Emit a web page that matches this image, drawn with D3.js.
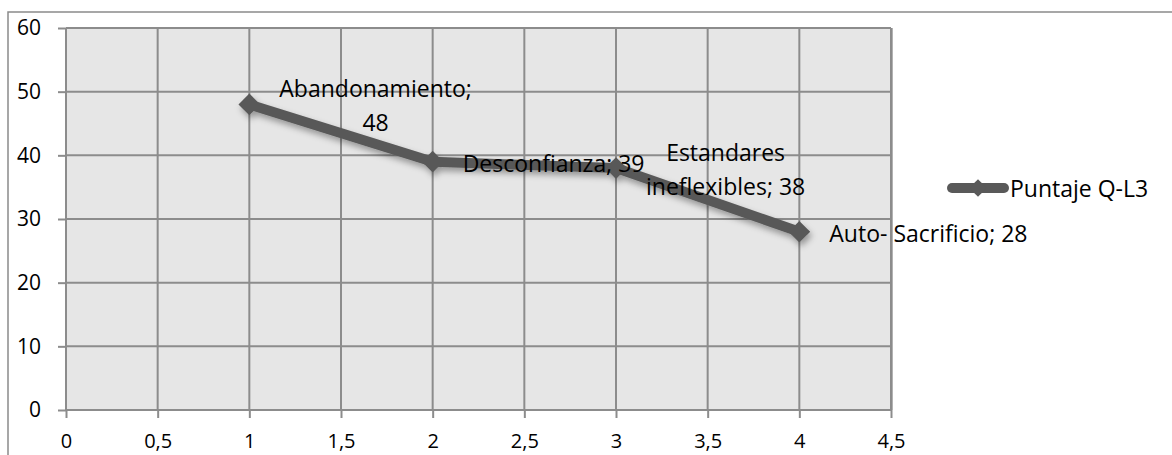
<!DOCTYPE html>
<html>
<head>
<meta charset="utf-8">
<script src="https://cdn.jsdelivr.net/npm/d3@7"></script>
<style>
  html, body { margin: 0; padding: 0; background: #ffffff; }
  svg { display: block; }
  text { font-family: "Open Sans", Lato, sans-serif; fill: #000; }
</style>
</head>
<body>
<svg id="chart" width="1172" height="455"></svg>
<script>
// Series data
const seriesName = "Puntaje Q-L3";
const categories = ["Abandonamiento", "Desconfianza", "Estandares ineflexibles", "Auto- Sacrificio"];
const xValues = [1, 2, 3, 4];
const yValues = [48, 39, 38, 28];

// Axis ticks
const xTicks = [0, 0.5, 1, 1.5, 2, 2.5, 3, 3.5, 4, 4.5];
const yTicks = [0, 10, 20, 30, 40, 50, 60];

const svg = d3.select("#chart");
const W = 1172, H = 455;
const plot = { left: 66, right: 891, top: 28, bottom: 410 };
const fontFamily = "'Open Sans', Lato, sans-serif";
const yAxisFontSize = 21;
const xAxisFontSize = 20;
const labelFontSize = 23;
const gridColor = "#8c8c8c";
const lineColor = "#595959";

const x = d3.scaleLinear().domain([0, 4.5]).range([plot.left, plot.right]);
const y = d3.scaleLinear().domain([0, 60]).range([plot.bottom, plot.top]);
const fmt = v => String(v).replace(".", ",");

// Shadow filters
const defs = svg.append("defs");
const f = defs.append("filter").attr("id", "shadow")
  .attr("x", "-10%").attr("y", "-20%").attr("width", "130%").attr("height", "160%");
f.append("feDropShadow").attr("dx", 2).attr("dy", 4).attr("stdDeviation", 3)
  .attr("flood-color", "#000").attr("flood-opacity", 0.35);
const fp = defs.append("filter").attr("id", "plotShadow")
  .attr("x", "-5%").attr("y", "-5%").attr("width", "110%").attr("height", "110%");
fp.append("feDropShadow").attr("dx", 2).attr("dy", 0).attr("stdDeviation", 0.6)
  .attr("flood-color", "#000").attr("flood-opacity", 0.3);

// Outer chart frame (runs past the window on the right and bottom)
svg.append("rect")
  .attr("x", 8).attr("y", 12).attr("width", W + 20).attr("height", H + 20)
  .attr("fill", "#fff").attr("stroke", "#8a8a8a").attr("stroke-width", 1.5);

// Plot area background
svg.append("rect")
  .attr("x", plot.left).attr("y", plot.top)
  .attr("width", plot.right - plot.left).attr("height", plot.bottom - plot.top)
  .attr("fill", "#e6e6e6").attr("filter", "url(#plotShadow)");

// Gridlines
svg.append("g").selectAll("line").data(yTicks).join("line")
  .attr("x1", plot.left).attr("x2", plot.right)
  .attr("y1", d => y(d)).attr("y2", d => y(d))
  .attr("stroke", gridColor).attr("stroke-width", 2);
svg.append("g").selectAll("line").data(xTicks).join("line")
  .attr("x1", d => x(d)).attr("x2", d => x(d))
  .attr("y1", plot.top).attr("y2", plot.bottom)
  .attr("stroke", gridColor).attr("stroke-width", 2);

// Axes
const yAxis = d3.axisLeft(y).tickValues(yTicks).tickFormat(fmt).tickSize(8).tickPadding(17);
const xAxis = d3.axisBottom(x).tickValues(xTicks).tickFormat(fmt).tickSize(8).tickPadding(16);

const gy = svg.append("g").attr("transform", `translate(${plot.left},0)`).call(yAxis);
const gx = svg.append("g").attr("transform", `translate(0,${plot.bottom})`).call(xAxis);
[gx, gy].forEach(g => {
  g.select(".domain").attr("stroke", gridColor).attr("stroke-width", 2);
  g.selectAll(".tick line").attr("stroke", gridColor).attr("stroke-width", 2);
  g.selectAll(".tick text").attr("font-family", fontFamily).attr("fill", "#000");
});
gy.selectAll(".tick text").attr("font-size", yAxisFontSize);
gx.selectAll(".tick text").attr("font-size", xAxisFontSize);
gx.select(".domain").attr("d", `M${plot.left},0H${plot.right}`);
gy.select(".domain").attr("d", `M0,${plot.top}V${plot.bottom}`);

// Series line with diamond markers
const pts = xValues.map((v, i) => ({ x: v, y: yValues[i], cat: categories[i] }));
const series = svg.append("g").attr("filter", "url(#shadow)");
series.append("path")
  .datum(pts)
  .attr("d", d3.line().x(d => x(d.x)).y(d => y(d.y)))
  .attr("fill", "none").attr("stroke", lineColor)
  .attr("stroke-width", 10).attr("stroke-linejoin", "round");
const diamond = d3.symbol().type(d3.symbolDiamond2).size(300);
series.selectAll("path.marker").data(pts).join("path")
  .attr("class", "marker")
  .attr("transform", d => `translate(${x(d.x)},${y(d.y)})`)
  .attr("d", diamond)
  .attr("fill", lineColor);

// Data labels: "category; value", wrapped, placed to the right of each point
const wrapWidth = 215, lineGap = 34, labelOffset = 30;
const measure = svg.append("text").attr("font-size", labelFontSize).attr("visibility", "hidden");
const textWidth = s => { measure.text(s); return measure.node().getComputedTextLength(); };

pts.forEach(p => {
  const words = `${p.cat}; ${p.y}`.split(" ");
  const lines = [];
  let cur = "";
  words.forEach(w => {
    const test = cur ? cur + " " + w : w;
    if (cur && textWidth(test) > wrapWidth) { lines.push(cur); cur = w; }
    else cur = test;
  });
  lines.push(cur);
  const blockW = d3.max(lines, textWidth);
  const cx = x(p.x) + labelOffset + blockW / 2;
  const cy = y(p.y) + 1;
  const g = svg.append("g");
  lines.forEach((ln, i) => {
    g.append("text")
      .attr("x", cx)
      .attr("y", cy + (i - (lines.length - 1) / 2) * lineGap)
      .attr("text-anchor", "middle")
      .attr("dominant-baseline", "central")
      .attr("font-size", labelFontSize)
      .text(ln);
  });
});
measure.remove();

// Legend
const lg = svg.append("g").attr("transform", "translate(948,188)");
lg.append("line").attr("x1", 4).attr("x2", 56).attr("y1", 0).attr("y2", 0)
  .attr("stroke", lineColor).attr("stroke-width", 10).attr("stroke-linecap", "round");
lg.append("path").attr("transform", "translate(30,0)")
  .attr("d", d3.symbol().type(d3.symbolDiamond2).size(200)).attr("fill", lineColor);
lg.append("text").attr("x", 62).attr("y", 0)
  .attr("dominant-baseline", "central").attr("font-size", labelFontSize).text(seriesName);
</script>
</body>
</html>
